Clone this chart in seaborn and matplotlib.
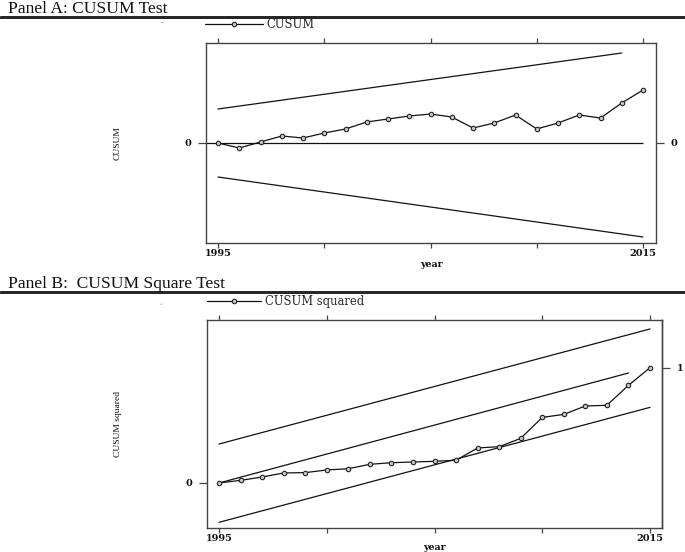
import matplotlib
matplotlib.use("Agg")
import matplotlib.pyplot as plt
import seaborn as sns
import numpy as np
from matplotlib.lines import Line2D

# ---------------- data ----------------
years = list(range(1995, 2016))
cusum = [0.0, -0.5, 0.1, 0.7, 0.5, 1.0, 1.4, 2.1, 2.4, 2.7, 2.9, 2.6,
         1.5, 2.0, 2.8, 1.4, 2.0, 2.8, 2.5, 4.0, 5.3]
cusum_upper_years = [1995, 2014]
cusum_upper = [3.4, 9.0]
cusum_lower_years = [1995, 2015]
cusum_lower = [-3.4, -9.4]

cusumsq = [0.0, 0.023, 0.052, 0.087, 0.090, 0.113, 0.124, 0.162, 0.176, 0.182,
           0.188, 0.197, 0.304, 0.315, 0.387, 0.569, 0.595, 0.668, 0.674, 0.847, 1.0]
sq_upper_years = [1995, 2015]
sq_upper = [0.338, 1.336]
sq_mid_years = [1995, 2014]
sq_mid = [0.0, 0.954]
sq_lower_years = [1995, 2015]
sq_lower = [-0.341, 0.656]

xticks = [1995, 2000, 2005, 2010, 2015]
xticklabels = ["1995", "", "", "", "2015"]

# ---------------- style ----------------
sns.set_theme(style="white")
plt.rcParams["font.family"] = ["DejaVu Serif"]

W, H = 685, 552
fig = plt.figure(figsize=(W / 100, H / 100), dpi=100)


def axes_px(left, right, top, bottom):
    return fig.add_axes([left / W, 1 - bottom / H, (right - left) / W, (bottom - top) / H])


def fy(y):
    return 1 - y / H


FRAME = "#444444"
LINE = "#111111"
mk = dict(marker="o", markersize=3.2, markerfacecolor="#c8c8c8",
          markeredgecolor="#222222", markeredgewidth=0.8)
tickfont = dict(family="DejaVu Serif", weight="bold", size=7)


def style_axes(ax, xlim, ylim, ylabel, ylab_x_px, ax_left_px, ax_w_px, xlabelpad):
    ax.set_xlim(*xlim)
    ax.set_ylim(*ylim)
    for s in ax.spines.values():
        s.set_color(FRAME)
        s.set_linewidth(1.0)
        s.set_visible(True)
    ax.set_xticks(xticks)
    ax.set_xticklabels(xticklabels, fontdict=tickfont)
    ax.tick_params(axis="x", which="both", top=True, bottom=True, direction="out",
                   length=3.5, width=0.9, color=FRAME, pad=0.5, labelcolor="#111")
    ax.set_xlabel("year", fontsize=6.8, fontweight="bold", family="DejaVu Serif",
                  labelpad=xlabelpad, color="#111")
    ax.set_ylabel(ylabel, fontsize=6.8, family="Liberation Serif", color="#111")
    ax.yaxis.label.set_va("center")
    ax.yaxis.set_label_coords((ylab_x_px - ax_left_px) / ax_w_px, 0.5)
    ax.grid(False)
    ax.set_facecolor("white")


legprop = dict(family="DejaVu Serif", size=8.3)

# ---------------- Panel A ----------------
fig.text(8 / W, fy(12.7), "Panel A: CUSUM Test", family="Liberation Serif",
         fontsize=12.6, va="baseline", ha="left", color="#111")
fig.add_artist(Line2D([0, 1], [fy(16), fy(16)], transform=fig.transFigure,
                      color="#222", lw=0.7))
fig.add_artist(Line2D([0, 1], [fy(18), fy(18)], transform=fig.transFigure,
                      color="#222", lw=1.4))
fig.text(162 / W, fy(23), "-", fontsize=5, ha="center", va="center", color="#555")

axA = axes_px(206, 656, 43, 243)
xlimA = (1995 - 12 / 21.25, 2015 + 13 / 21.25)
sns.lineplot(x=cusum_upper_years, y=cusum_upper, ax=axA, color=LINE, lw=0.9)
sns.lineplot(x=cusum_lower_years, y=cusum_lower, ax=axA, color=LINE, lw=0.9)
axA.hlines(0, xlimA[0], 2015, color=LINE, lw=0.9)
sns.lineplot(x=years, y=cusum, ax=axA, color=LINE, lw=0.9, label="CUSUM", **mk)
style_axes(axA, xlimA, (-10, 10), "CUSUM", 118, 206, 450, 2)
axA.set_yticks([0])
axA.set_yticklabels(["0"], fontdict=tickfont)
axA.tick_params(axis="y", left=True, right=True, labelleft=True, labelright=True,
                direction="out", length=6, width=0.9, color=FRAME, pad=4.5,
                labelcolor="#111")
legA = axA.legend(loc="center left", bbox_to_anchor=(205 / W, fy(25)),
                  bbox_transform=fig.transFigure, frameon=False, handlelength=5.0,
                  handletextpad=0.3, borderpad=0, borderaxespad=0,
                  prop=legprop, numpoints=1)

# ---------------- Panel B ----------------
fig.text(8 / W, fy(288), "Panel B:  CUSUM Square Test", family="Liberation Serif",
         fontsize=12.6, va="baseline", ha="left", color="#111")
fig.add_artist(Line2D([0, 1], [fy(291), fy(291)], transform=fig.transFigure,
                      color="#222", lw=0.7))
fig.add_artist(Line2D([0, 1], [fy(293), fy(293)], transform=fig.transFigure,
                      color="#222", lw=1.4))
fig.text(162 / W, fy(305), "-", fontsize=5, ha="center", va="center", color="#555",
         rotation=30)

axB = axes_px(207, 662, 320, 528)
pxB = 115.3
xlimB = (1995 - 12 / 21.55, 2015 + 12 / 21.55)
ylimB = (-(528 - 483) / pxB, (483 - 320) / pxB)
sns.lineplot(x=sq_upper_years, y=sq_upper, ax=axB, color=LINE, lw=0.9)
sns.lineplot(x=sq_mid_years, y=sq_mid, ax=axB, color=LINE, lw=0.9)
sns.lineplot(x=sq_lower_years, y=sq_lower, ax=axB, color=LINE, lw=0.9)
sns.lineplot(x=years, y=cusumsq, ax=axB, color=LINE, lw=0.9, label="CUSUM squared", **mk)
style_axes(axB, xlimB, ylimB, "CUSUM squared", 118, 207, 455, 0)
axB.set_yticks([0])
axB.set_yticklabels(["0"], fontdict=tickfont)
axB.tick_params(axis="y", left=True, right=False, labelleft=True, labelright=False,
                direction="out", length=6, width=0.9, color=FRAME, pad=4.5,
                labelcolor="#111")
secB = axB.secondary_yaxis("right")
secB.set_yticks([1])
secB.set_yticklabels(["1"], fontdict=tickfont)
secB.tick_params(axis="y", direction="out", length=6, width=0.9, color=FRAME, pad=4.5,
                 labelcolor="#111")
secB.spines["right"].set_color(FRAME)
secB.spines["right"].set_linewidth(1.0)
legB = axB.legend(loc="center left", bbox_to_anchor=(207 / W, fy(302)),
                  bbox_transform=fig.transFigure, frameon=False, handlelength=4.7,
                  handletextpad=0.3, borderpad=0, borderaxespad=0,
                  prop=legprop, numpoints=1)

fig.savefig("out.png", dpi=100, facecolor="white")
